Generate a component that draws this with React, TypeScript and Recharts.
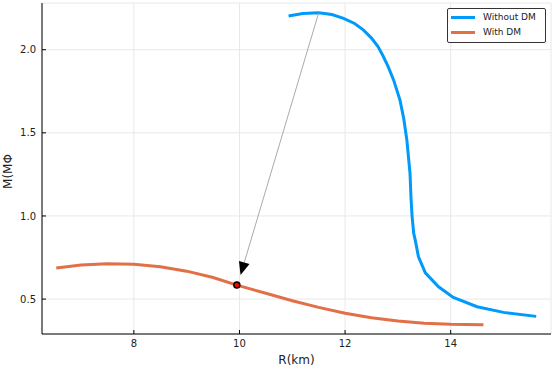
import { LineChart, Line, XAxis, YAxis, CartesianGrid, ReferenceLine, ReferenceDot, Label } from 'recharts';

// M-R curve without dark matter
const noDmR = [10.93, 11.2, 11.5, 11.75, 11.97, 12.18, 12.35, 12.5, 12.62, 12.72, 12.82, 12.92, 13.04, 13.11, 13.17, 13.23, 13.25, 13.27, 13.3, 13.33, 13.39, 13.52, 13.77, 14.05, 14.5, 15.0, 15.62];
const noDmM = [2.203, 2.218, 2.223, 2.212, 2.189, 2.158, 2.118, 2.07, 2.02, 1.962, 1.895, 1.817, 1.697, 1.587, 1.457, 1.256, 1.1, 0.995, 0.895, 0.853, 0.754, 0.658, 0.574, 0.51, 0.454, 0.42, 0.396];

// M-R curve with dark matter
const dmR = [6.53, 7.0, 7.5, 8.0, 8.5, 9.0, 9.5, 9.95, 10.5, 11.0, 11.5, 12.0, 12.5, 13.0, 13.5, 14.0, 14.62];
const dmM = [0.687, 0.705, 0.713, 0.71, 0.695, 0.668, 0.63, 0.584, 0.535, 0.49, 0.45, 0.415, 0.388, 0.368, 0.355, 0.348, 0.345];

const xTicks = [8, 10, 12, 14];
const yTicks = [0.5, 1.0, 1.5, 2.0];

const seriesNames = ['Without DM', 'With DM'];

// arrow from the max-mass star to the marked DM star
const arrowFrom = { x: 11.5, y: 2.222 };
const arrowTo = { x: 10.02, y: 0.645 };
const marked = { x: 9.95, y: 0.584 };

const noDmData = noDmR.map((r, i) => ({ x: r, y: noDmM[i] }));
const dmData = dmR.map((r, i) => ({ x: r, y: dmM[i] }));

const BLUE = '#009AFA';
const ORANGE = '#E26F46';
const COLORS = [BLUE, ORANGE];
const FONT = '"DejaVu Sans", sans-serif';

const ArrowShape = (props: any) => {
    const { x1, y1, x2, y2 } = props;
    const dx = x2 - x1;
    const dy = y2 - y1;
    const len = Math.sqrt(dx * dx + dy * dy) || 1;
    const ux = dx / len;
    const uy = dy / len;
    const bx = x2 - ux * 13;
    const by = y2 - uy * 13;
    const px = -uy * 5.5;
    const py = ux * 5.5;
    return (
        <g>
            <line x1={x1} y1={y1} x2={bx} y2={by} stroke="#a0a0a0" strokeWidth={0.9} />
            <polygon points={`${x2},${y2} ${bx + px},${by + py} ${bx - px},${by - py}`} fill="#000" />
        </g>
    );
};

const LegendBox = () => (
    <div
        style={{
            position: 'absolute',
            left: 447,
            top: 8,
            width: 90,
            border: '1px solid #333',
            borderRadius: 2,
            background: '#fff',
            padding: '1px 4px 2px 3px',
            fontFamily: FONT,
            fontSize: 9,
            color: '#222',
            lineHeight: '15px',
        }}
    >
        {seriesNames.map((name, i) => (
            <div key={name} style={{ display: 'flex', alignItems: 'center' }}>
                <span style={{ display: 'inline-block', width: 24, height: 3, background: COLORS[i], marginRight: 8 }} />
                {name}
            </div>
        ))}
    </div>
);

export default function App() {
    return (
        <div style={{ position: 'absolute', left: 0, top: 0, width: 554, height: 369, background: '#fff' }}>
            <LineChart width={554} height={369} margin={{ top: 3, right: 3, left: 0, bottom: 0 }}>
                <CartesianGrid stroke="#e8e8e8" strokeWidth={1} />
                <XAxis
                    type="number"
                    dataKey="x"
                    domain={[6.26, 15.9]}
                    allowDataOverflow
                    ticks={xTicks}
                    height={35}
                    tickSize={-4}
                    tickMargin={10}
                    axisLine={{ stroke: '#000', strokeWidth: 1 }}
                    tickLine={{ stroke: '#000' }}
                    tick={{ fill: '#222', fontSize: 10, fontFamily: FONT }}
                >
                    <Label value="R(km)" position="insideBottom" offset={5} style={{ fontSize: 12, fontFamily: FONT, fill: '#222' }} />
                </XAxis>
                <YAxis
                    type="number"
                    dataKey="y"
                    domain={[0.29, 2.281]}
                    allowDataOverflow
                    ticks={yTicks}
                    width={42}
                    tickSize={-4}
                    tickMargin={10}
                    tickFormatter={(v: number) => v.toFixed(1)}
                    axisLine={{ stroke: '#000', strokeWidth: 1 }}
                    tickLine={{ stroke: '#000' }}
                    tick={{ fill: '#222', fontSize: 10, fontFamily: FONT }}
                >
                    <Label
                        content={({ viewBox }: any) => {
                            const cx = viewBox.x + 8;
                            const cy = viewBox.y + viewBox.height / 2 + 3;
                            return (
                                <text
                                    x={cx}
                                    y={cy}
                                    transform={`rotate(-90 ${cx} ${cy})`}
                                    textAnchor="middle"
                                    dominantBaseline="central"
                                    style={{ fontSize: 12, fontFamily: FONT, fill: '#222' }}
                                >
                                    M(MΦ
                                </text>
                            );
                        }}
                    />
                </YAxis>
                <Line
                    data={noDmData}
                    dataKey="y"
                    name={seriesNames[0]}
                    type="linear"
                    stroke={BLUE}
                    strokeWidth={3}
                    dot={false}
                    isAnimationActive={false}
                />
                <Line
                    data={dmData}
                    dataKey="y"
                    name={seriesNames[1]}
                    type="linear"
                    stroke={ORANGE}
                    strokeWidth={3}
                    dot={false}
                    isAnimationActive={false}
                />
                <ReferenceLine segment={[arrowFrom, arrowTo]} shape={ArrowShape} />
                <ReferenceDot x={marked.x} y={marked.y} r={3} fill="#ff0000" stroke="#000" strokeWidth={1.5} />
            </LineChart>
            <LegendBox />
        </div>
    );
}
